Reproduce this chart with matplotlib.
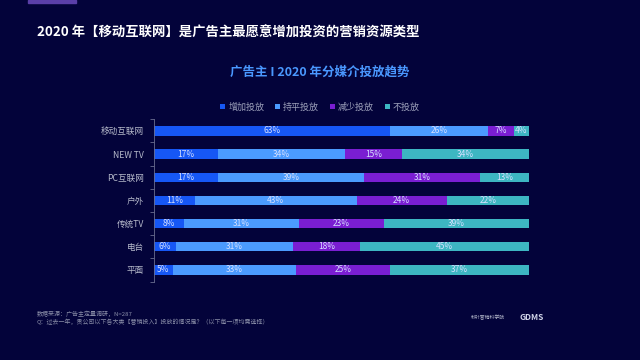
import numpy as np
import matplotlib.pyplot as plt
from matplotlib.patches import Rectangle

plt.rcParams['font.family'] = ['Noto Sans CJK SC', 'DejaVu Sans']

# data
media = ['移动互联网', 'NEW TV', 'PC互联网', '户外', '传统TV', '电台', '平面']
series = ['增加投放', '持平投放', '减少投放', '不投放']
increase = [63, 17, 17, 11, 8, 6, 5]
flat = [26, 34, 39, 43, 31, 31, 33]
decrease = [7, 15, 31, 24, 23, 18, 25]
none_ = [4, 34, 13, 22, 39, 45, 37]
colors = ['#1657f5', '#4b9bff', '#7a1ed2', '#3db6c2']

bg = '#03033a'
fig = plt.figure(figsize=(6.4, 3.6), dpi=100, facecolor=bg)
ax = fig.add_axes([0.2406, 0.218, 0.586, 0.4506], facecolor=bg)

y = np.arange(len(media))
vals = [increase, flat, decrease, none_]
tot = np.array(increase) + np.array(flat) + np.array(decrease) + np.array(none_)
left = np.zeros(len(media))
for name, v, c in zip(series, vals, colors):
    v = np.array(v, dtype=float)
    w = v / tot * 100
    ax.barh(y, w, left=left, height=0.4, color=c, label=name, edgecolor='none')
    for yi, l, wi, vi in zip(y, left, w, v):
        ax.text(l + wi / 2, yi, f'{int(vi)}%', ha='center', va='center',
                color='#d6e0ff', fontsize=6)
    left += w

ax.set_xlim(0, 100)
ax.set_ylim(len(media) - 0.5, -0.5)
ax.set_yticks(y)
ax.set_yticklabels(media, color='#b8bccc', fontsize=6.2)
ax.set_yticks(np.arange(-0.5, len(media)), minor=True)
ax.tick_params(axis='y', which='major', length=0, pad=7)
ax.tick_params(axis='y', which='minor', length=3, color='#6a6e90', width=0.6)
ax.set_xticks([])
for s in ['top', 'right', 'bottom']:
    ax.spines[s].set_visible(False)
ax.spines['left'].set_color('#6a6e90')
ax.spines['left'].set_linewidth(0.6)

leg = fig.legend(loc='center', bbox_to_anchor=(0.5, 0.703), ncol=4, frameon=False,
                 fontsize=6.5, handlelength=0.6, handleheight=0.6,
                 handletextpad=0.3, columnspacing=1.2)
for t in leg.get_texts():
    t.set_color('#9a9eb8')

fig.text(37 / 640, 1 - 33 / 360, '2020 年【移动互联网】是广告主最愿意增加投资的营销资源类型',
         color='white', fontsize=9.6, fontweight='bold', va='center', ha='left')
fig.text(0.5, 1 - 72 / 360, '广告主 I 2020 年分媒介投放趋势', color='#4a98ff',
         fontsize=9, fontweight='bold', va='center', ha='center')

fig.text(37 / 640, 1 - 314 / 360, '数据来源：广告主定量调研，N=287', color='#8a8ea8',
         fontsize=4.3, va='center')
fig.text(37 / 640, 1 - 322 / 360, 'Q：过去一年，贵公司以下各大类【营销投入】投放的情况是？（以下每一项均需选择）',
         color='#8a8ea8', fontsize=4.3, va='center')

fig.text(520 / 640, 1 - 318 / 360, 'GDMS', color='#d0d4e8', fontsize=6,
         fontweight='bold', va='center')
fig.text(505 / 640, 1 - 318 / 360, '秒针营销科学院', color='#b0b4c8', fontsize=3.5,
         va='center', ha='right')
fig.patches.append(Rectangle((28 / 640, 357 / 360), 48 / 640, 3 / 360,
                             transform=fig.transFigure, color='#5a3fa8'))

fig.savefig('out.png', dpi=100, facecolor=bg)
